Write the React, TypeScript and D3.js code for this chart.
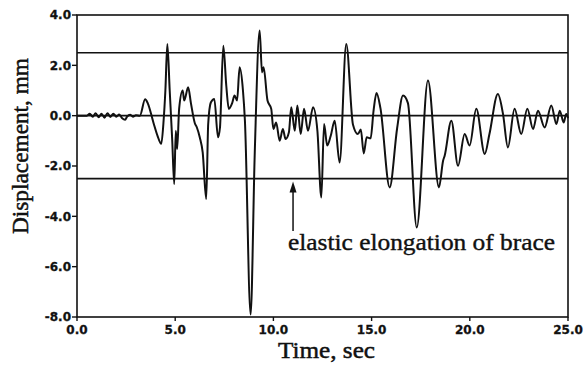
import React from "react";
import * as d3 from "d3";

const timeSec: number[] = [
  0, 0.5, 0.65, 0.8, 0.95, 1.1, 1.25, 1.4, 1.55, 1.7, 1.85, 2.0, 2.15, 2.3, 2.45, 2.55, 2.7, 2.85, 3.0, 3.2,
  3.47, 3.6, 3.9, 4.1, 4.29, 4.4, 4.5, 4.6, 4.72, 4.85, 4.95, 5.03, 5.1, 5.2, 5.38, 5.46, 5.66,
  5.8, 6.0, 6.1, 6.25, 6.4, 6.58, 6.68, 6.82, 6.99, 7.18, 7.28, 7.45, 7.6, 7.73, 7.9, 8.02, 8.15, 8.28,
  8.45, 8.55, 8.84, 9.05, 9.3, 9.42, 9.5, 9.7, 9.89, 10.0, 10.14, 10.32, 10.48, 10.62, 10.79,
  10.91, 11.09, 11.22, 11.39, 11.56, 11.76, 12.02, 12.24, 12.44, 12.58, 12.74, 12.92, 13.12, 13.37,
  13.71, 14.05, 14.3, 14.45, 14.6, 14.75, 14.95, 15.1, 15.25, 15.45, 15.92, 16.3, 16.6, 16.85,
  17.3, 17.87, 18.43, 18.64, 18.72, 19.06, 19.4, 19.74, 19.99, 20.33, 20.76, 21.0, 21.43, 21.69,
  21.94, 22.28, 22.62, 22.93, 23.22, 23.47, 23.81, 24.15, 24.41, 24.58, 24.78, 24.91, 25.0,
];

const displacementMm: number[] = [
  0, 0, 0.08, -0.04, 0.1, -0.06, 0.08, -0.08, 0.1, -0.05, 0.08, -0.04, 0.05, -0.1, -0.16, -0.04, 0.04, -0.04, 0.02, 0,
  0.65, 0.5, -0.3, -0.8, -1.12, -0.3, 1.0, 2.85, 1.0, -1.0, -2.72, -0.6, -1.32, 0.27, 1.0, 0.6, 1.13,
  0.5, -0.3, -0.46, -0.86, -1.46, -3.31, -0.33, 0.53, 0.66, -0.86, -0.47, 2.78, 1.2, 0.27, 0.5, 0.8, 0.6, 1.92,
  1.0, -0.2, -7.9, -1.5, 3.38, 1.72, 1.92, 0.6, 0.27, -0.53, -0.27, -1.0, -0.53, -0.93, -0.66,
  0.33, -0.6, 0.4, -0.73, 0.27, -0.6, 0.33, -0.6, -3.25, -0.33, -1.19, -0.8, -0.2, -1.86,
  2.85, -0.35, -0.73, -0.55, -1.5, -0.86, -0.9, 0.2, 0.9, 0.3, -2.85, -0.5, 0.8, 0.5,
  -4.44, 1.4, -2.85, -1.79, -1.59, -0.2, -1.99, -0.73, -1.19, 0.27, -1.52, -0.73, 0.86, 0.07,
  -1.26, 0.27, -0.73, 0.27, -0.53, 0.2, -0.47, 0.4, -0.33, 0.2, -0.27, 0.07, -0.1,
];

const refLevels: number[] = [2.5, 0, -2.5];
const xTicks: number[] = [0, 5, 10, 15, 20, 25];
const yTicks: number[] = [4, 2, 0, -2, -4, -6, -8];

const xLabel = "Time, sec";
const yLabel = "Displacement, mm";
const annotation = "elastic elongation of brace";
const arrowTime = 11.0;

export default function App() {
  const W = 588;
  const H = 367;
  const left = 77;
  const right = 568;
  const top = 15;
  const bottom = 317;

  const x = d3.scaleLinear().domain([0, 25]).range([left, right]);
  const y = d3.scaleLinear().domain([-8, 4]).range([bottom, top]);

  const pts: [number, number][] = timeSec.map((t, i) => [t, displacementMm[i]]);
  const line = d3
    .line<[number, number]>()
    .x((d) => x(d[0]))
    .y((d) => y(d[1]))
    .curve(d3.curveMonotoneX);

  const ax = x(arrowTime);
  const tipY = y(-2.5) + 3;
  const ink = "#111";

  return (
    <svg
      width={W}
      height={H}
      style={{ position: "absolute", left: 0, top: 0, background: "#fff" }}
    >
      <rect x={0} y={0} width={W} height={H} fill="#fff" />
      {refLevels.map((v) => (
        <line key={v} x1={left} x2={right} y1={y(v)} y2={y(v)} stroke={ink} strokeWidth={1.6} />
      ))}
      <path d={line(pts) || ""} fill="none" stroke={ink} strokeWidth={2} strokeLinejoin="round" />
      <rect x={left} y={top} width={right - left} height={bottom - top} fill="none" stroke={ink} strokeWidth={1.6} />
      {yTicks.map((v) => (
        <g key={v}>
          <line x1={left - 5} x2={left} y1={y(v)} y2={y(v)} stroke={ink} strokeWidth={1.4} />
          <text
            x={left - 6}
            y={y(v)}
            dy="0.36em"
            textAnchor="end"
            fontFamily="DejaVu Sans"
            fontWeight="bold"
            fontSize={12}
            fill={ink}
            stroke={ink}
            strokeWidth={0.3}
          >
            {v.toFixed(1)}
          </text>
        </g>
      ))}
      {xTicks.map((v) => (
        <g key={v}>
          <line x1={x(v)} x2={x(v)} y1={bottom} y2={bottom + 4} stroke={ink} strokeWidth={1.4} />
          <text
            x={x(v)}
            y={334}
            textAnchor="middle"
            fontFamily="DejaVu Sans"
            fontWeight="bold"
            fontSize={12}
            fill={ink}
            stroke={ink}
            strokeWidth={0.3}
          >
            {v.toFixed(1)}
          </text>
        </g>
      ))}
      <text
        x={(left + right) / 2 + 4}
        y={358}
        textAnchor="middle"
        fontFamily="Liberation Serif"
        fontSize={24}
        textLength={97}
        lengthAdjust="spacingAndGlyphs"
        fill={ink}
        stroke={ink}
        strokeWidth={0.5}
      >
        {xLabel}
      </text>
      <text
        transform={`translate(28,146) rotate(-90)`}
        textAnchor="middle"
        fontFamily="Liberation Serif"
        fontSize={24}
        textLength={176}
        lengthAdjust="spacingAndGlyphs"
        fill={ink}
        stroke={ink}
        strokeWidth={0.5}
      >
        {yLabel}
      </text>
      <line x1={ax} x2={ax} y1={231} y2={tipY + 8} stroke={ink} strokeWidth={1.5} />
      <path
        d={`M${ax},${tipY} L${ax - 3.5},${tipY + 11} L${ax + 3.5},${tipY + 11} Z`}
        fill={ink}
      />
      <text
        x={288}
        y={250}
        fontFamily="Liberation Serif"
        fontSize={24}
        textLength={267}
        lengthAdjust="spacingAndGlyphs"
        fill={ink}
        stroke={ink}
        strokeWidth={0.4}
      >
        {annotation}
      </text>
    </svg>
  );
}
